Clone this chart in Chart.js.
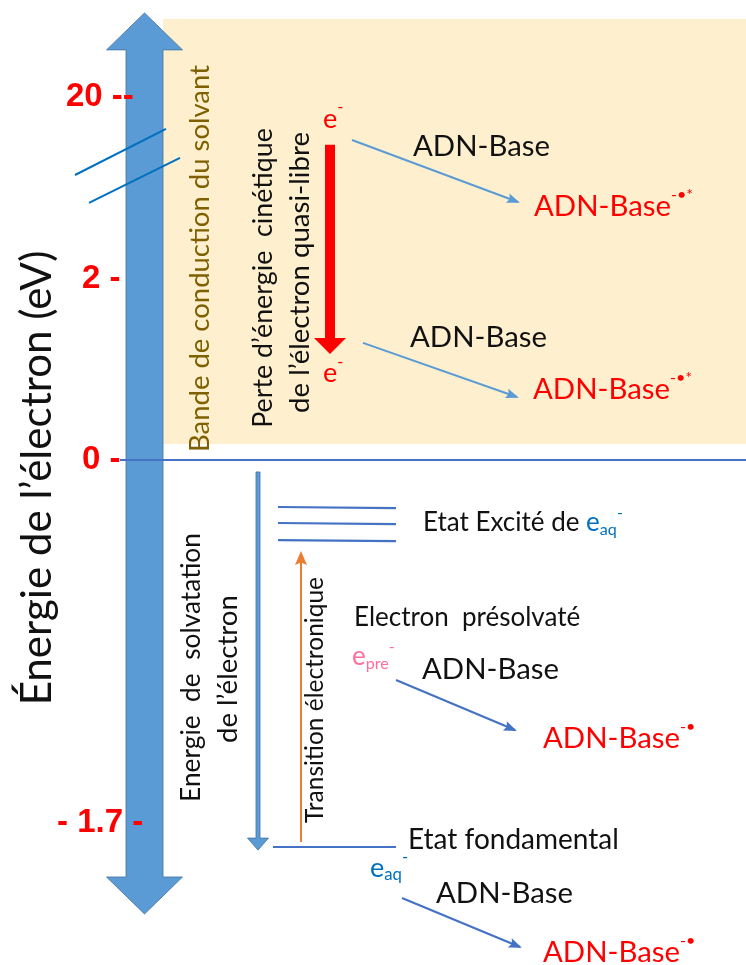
<!DOCTYPE html>
<html>
<head>
<meta charset="utf-8">
<script src="https://cdn.jsdelivr.net/npm/chart.js@4.4.1/dist/chart.umd.min.js"></script>
<style>
  html, body { margin: 0; padding: 0; background: #fff; }
  canvas { display: block; }
</style>
</head>
<body>
<canvas id="diagram" width="746" height="965"></canvas>
<script>
// Energy axis is schematic (broken scale): level units, 0 eV at 0, 2 eV at 100, 20 eV at 200, -1.7 eV at -200
const tickLabels = ["20 --", "2 -", "0 -", "- 1.7 -"];
const tickLevels = [200, 100, 0, -200];

// conduction band of the solvent (beige zone)
const bandX = [163, 746];
const bandY = [8.8, 243];

// big energy double arrow
const energyArrow = [[144.5, 246.3], [144.5, -250.1]];
// kinetic energy loss (red arrow)
const lossArrow = [[330, 173.6], [330, 58.4]];
// solvation energy arrow
const solvationArrow = [[258, -6.6], [258, -214.9]];
// electronic transition (orange arrow)
const transitionArrow = [[301, -210.5], [301, -51.2]];

const zeroLine = [[120, 0], [746, 0]];
const breakMarks = [
  [[75, 157], [166, 182.4]],
  [[89, 141.6], [180, 166.4]],
];
const excitedLevels = [-25.9, -34.7, -44.1];
const excitedSpan = [278, 396];
const groundLevel = -213.2;
const groundSpan = [273, 396];

// electron -> ADN-Base capture arrows
const captureTop = [
  [[352, 176.3], [518, 142.1]],
  [[363, 64.5], [517, 34.7]],
];
const captureBottom = [
  [[396, -121.2], [515, -148.8]],
  [[402, -241.3], [520, -268.3]],
];

// horizontal labels: [x, level, runs, size]
const RED = "#FF0000", BLACK = "#111111", AQ = "#0070C0", PRE = "#FF6F9C";
const labels = [
  [323, 187.9, [{ t: "e", c: RED }, { t: "-", c: RED, sup: 1 }], 27],
  [323, 47.9, [{ t: "e", c: RED }, { t: "-", c: RED, sup: 1 }], 27],
  [413, 172.5, [{ t: "ADN-Base", c: BLACK }], 0],
  [534, 139.4, [{ t: "ADN-Base", c: RED }, { t: "-•*", c: RED, sup: 1 }], 0],
  [410, 67.2, [{ t: "ADN-Base", c: BLACK }], 0],
  [533, 38.6, [{ t: "ADN-Base", c: RED }, { t: "-•*", c: RED, sup: 1 }], 0],
  [423, -34.7, [{ t: "Etat Excité de ", c: BLACK }, { t: "e", c: AQ }, { t: "aq", c: AQ, sub: 1 }, { t: "-", c: AQ, sup: 1 }], 26],
  [354, -87.1, [{ t: "Electron  présolvaté", c: BLACK }], 26],
  [352, -108.5, [{ t: "e", c: PRE }, { t: "pre", c: PRE, sub: 1 }, { t: "-", c: PRE, sup: 1 }], 26],
  [422, -115.7, [{ t: "ADN-Base", c: BLACK }], 0],
  [543, -153.2, [{ t: "ADN-Base", c: RED }, { t: "-•", c: RED, sup: 1 }], 0],
  [408, -209.4, [{ t: "Etat fondamental", c: BLACK }], 28],
  [370, -224.8, [{ t: "e", c: AQ }, { t: "aq", c: AQ, sub: 1 }, { t: "-", c: AQ, sup: 1 }], 27],
  [436, -238.6, [{ t: "ADN-Base", c: BLACK }], 0],
  [543, -271.6, [{ t: "ADN-Base", c: RED }, { t: "-•", c: RED, sup: 1 }], 0],
];

// rotated labels: [text, x, level, target length, colour]
const vLabels = [
  ["Énergie de l’électron (eV)", 37, -9.9, 455, "#111111"],
  ["Bande de conduction du solvant", 200, 111, 387, "#7F6000"],
  ["Perte d’énergie  cinétique", 263, 100.3, 300, "#111111"],
  ["de l’électron quasi-libre", 300, 103.3, 281, "#111111"],
  ["Energie  de  solvatation", 192, -114.3, 269, "#111111"],
  ["de l’électron", 228, -115.2, 148, "#111111"],
  ["Transition électronique", 315, -132.2, 246, "#111111"],
];

const FONT = "Lato, 'Open Sans', sans-serif";

const pts = (seg) => seg.map(([x, y]) => ({ x, y }));
const lineDs = (seg, color, width, extra = {}) => ({
  type: "line",
  data: pts(seg),
  borderColor: color,
  borderWidth: width,
  pointRadius: 0,
  tension: 0,
  fill: false,
  ...extra,
});

const datasets = [
  // block arrows (drawn by the plugin from their points)
  lineDs(energyArrow, "transparent", 0, { block: { shaft: 37, head: 76, len: 37, both: true, fill: "#5B9BD5", stroke: "#41719C" } }),
  lineDs(lossArrow, "transparent", 0, { block: { shaft: 10, head: 32, len: 16, fill: "#FF0000" } }),
  lineDs(solvationArrow, "transparent", 0, { block: { shaft: 4, head: 21, len: 12, fill: "#5B9BD5", stroke: "#41719C" } }),
  lineDs(zeroLine, "#4472C4", 2),
  ...breakMarks.map((s) => lineDs(s, "#0070C0", 2)),
  ...excitedLevels.map((lv) => lineDs([[excitedSpan[0], lv], [excitedSpan[1], lv - 0.6]], "#4472C4", 2.2)),
  lineDs([[groundSpan[0], groundLevel], [groundSpan[1], groundLevel]], "#4472C4", 2.2),
  lineDs(transitionArrow, "#ED7D31", 2, { head: { len: 12, half: 6 } }),
  ...captureTop.map((s) => lineDs(s, "#5B9BD5", 2, { head: { len: 11, half: 5 } })),
  ...captureBottom.map((s) => lineDs(s, "#4472C4", 2.2, { head: { len: 11, half: 5 } })),
];

function fitSize(ctx, text, width, weight) {
  ctx.font = `${weight} 100px ${FONT}`;
  return (100 * width) / ctx.measureText(text).width;
}

const diagramPlugin = {
  id: "diagram",
  beforeDatasetsDraw(chart) {
    const { ctx, scales: { x, y } } = chart;
    ctx.save();
    // beige band
    ctx.fillStyle = "#FEF0CF";
    const x0 = x.getPixelForValue(bandX[0]), x1 = x.getPixelForValue(bandX[1]);
    const y0 = y.getPixelForValue(bandY[1]), y1 = y.getPixelForValue(bandY[0]);
    ctx.fillRect(x0, y0, x1 - x0, y1 - y0);

    // block arrows
    chart.data.datasets.forEach((ds, i) => {
      if (!ds.block) return;
      const [a, b] = chart.getDatasetMeta(i).data;
      const bk = ds.block;
      const ang = Math.atan2(b.y - a.y, b.x - a.x);
      const ux = Math.cos(ang), uy = Math.sin(ang), nx = -uy, ny = ux;
      const L = Math.hypot(b.x - a.x, b.y - a.y);
      const s = bk.shaft / 2, h = bk.head / 2;
      const P = (d, o) => [a.x + ux * d + nx * o, a.y + uy * d + ny * o];
      let poly;
      if (bk.both) {
        poly = [P(0, 0), P(bk.len, h), P(bk.len, s), P(L - bk.len, s), P(L - bk.len, h), P(L, 0),
                P(L - bk.len, -h), P(L - bk.len, -s), P(bk.len, -s), P(bk.len, -h)];
      } else {
        poly = [P(0, s), P(L - bk.len, s), P(L - bk.len, h), P(L, 0), P(L - bk.len, -h), P(L - bk.len, -s), P(0, -s)];
      }
      ctx.beginPath();
      poly.forEach(([px, py], k) => (k ? ctx.lineTo(px, py) : ctx.moveTo(px, py)));
      ctx.closePath();
      ctx.fillStyle = bk.fill;
      ctx.fill();
      if (bk.stroke) {
        ctx.strokeStyle = bk.stroke;
        ctx.lineWidth = 0.8;
        ctx.stroke();
      }
    });
    ctx.restore();
  },
  afterDatasetsDraw(chart) {
    const { ctx, scales: { x, y } } = chart;
    ctx.save();

    // line arrow heads
    chart.data.datasets.forEach((ds, i) => {
      if (!ds.head) return;
      const [a, b] = chart.getDatasetMeta(i).data;
      const ang = Math.atan2(b.y - a.y, b.x - a.x);
      const ux = Math.cos(ang), uy = Math.sin(ang);
      const { len, half } = ds.head;
      ctx.beginPath();
      ctx.moveTo(b.x + ux * 2, b.y + uy * 2);
      ctx.lineTo(b.x - ux * len - uy * half, b.y - uy * len + ux * half);
      ctx.lineTo(b.x - ux * len * 0.8, b.y - uy * len * 0.8);
      ctx.lineTo(b.x - ux * len + uy * half, b.y - uy * len - ux * half);
      ctx.closePath();
      ctx.fillStyle = ds.borderColor;
      ctx.fill();
    });

    // energy tick labels
    const tickLeft = [66, 82, 82, 57];
    ctx.fillStyle = "#FF0000";
    ctx.font = `bold 33px 'Liberation Sans', Arial, sans-serif`;
    ctx.textBaseline = "middle";
    ctx.textAlign = "left";
    tickLabels.forEach((t, k) => {
      ctx.fillText(t, x.getPixelForValue(tickLeft[k]), y.getPixelForValue(tickLevels[k]));
    });

    // rotated labels
    vLabels.forEach(([t, vx, vy, w, col]) => {
      const size = fitSize(ctx, t, w, "normal");
      ctx.save();
      ctx.translate(x.getPixelForValue(vx), y.getPixelForValue(vy));
      ctx.rotate(-Math.PI / 2);
      ctx.font = `${size}px ${FONT}`;
      ctx.fillStyle = col;
      ctx.textAlign = "center";
      ctx.textBaseline = "middle";
      ctx.fillText(t, 0, 0);
      ctx.restore();
    });

    // horizontal labels with sub/superscripts
    const adnSize = fitSize(ctx, "ADN-Base", 137, "normal");
    labels.forEach(([lx, ly, runs, sz]) => {
      const size = sz || adnSize;
      let cx = x.getPixelForValue(lx);
      const cy = y.getPixelForValue(ly);
      ctx.textAlign = "left";
      ctx.textBaseline = "middle";
      runs.forEach((r) => {
        const s = r.sub || r.sup ? size * (r.t.includes("•") ? 0.55 : 0.62) : size;
        ctx.font = `${s}px ${FONT}`;
        ctx.fillStyle = r.c;
        const dy = r.sup ? -size * 0.4 : r.sub ? size * 0.25 : 0;
        ctx.fillText(r.t, cx, cy + dy);
        cx += ctx.measureText(r.t).width;
      });
    });
    ctx.restore();
  },
};

new Chart(document.getElementById("diagram"), {
  type: "line",
  data: { datasets },
  options: {
    responsive: false,
    animation: false,
    layout: { padding: 0 },
    plugins: { legend: { display: false }, tooltip: { enabled: false } },
    scales: {
      x: { type: "linear", min: 0, max: 746, display: false },
      y: { type: "linear", min: -278.2, max: 253.4, display: false },
    },
  },
  plugins: [diagramPlugin],
});
</script>
</body>
</html>
